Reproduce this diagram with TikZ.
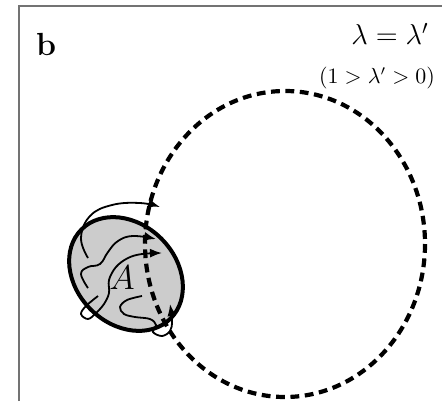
\documentclass[tikz,border=0pt]{standalone}
\usepackage{amsmath,amssymb}
\usepackage{tikz}
\usetikzlibrary{arrows.meta}

\begin{document}
\begin{tikzpicture}[
  x=0.5pt,
  y=-0.5pt,
  frame/.style={
    draw=black!55,
    line width=1pt
  },
  region/.style={
    draw=black,
    fill=black!20,
    line width=2pt
  },
  orbit/.style={
    draw=black,
    line width=2.1pt,
    dash pattern=on 4.4pt off 2.8pt
  },
  walk/.style={
    draw=black,
    line width=0.9pt
  },
  tipped/.style={walk, -{Latex[length=6pt,width=4.5pt]}},
  tag/.style={inner sep=0pt, font=\fontsize{16}{19}\selectfont\bfseries},
  eqn/.style={inner sep=0pt, font=\fontsize{14.5}{17}\selectfont},
  cond/.style={inner sep=0pt, font=\fontsize{10.5}{12}\selectfont}
]
\useasboundingbox (0,0) rectangle (442,401);

% frame of the panel
\draw[frame] (19,401) -- (19,6) -- (442,6);

% the set A
\draw[region, rotate around={-45:(126,274)}] (126,274) ellipse [x radius=63, y radius=50];

% orbit
\draw[orbit] (285,244) ellipse [x radius=140, y radius=153];

% trajectories
\draw[tipped] plot[smooth, tension=0.7] coordinates {
  (88,258) (81,238) (90,216) (112,205) (140,203) (160,207)};
\draw[tipped] plot[smooth, tension=0.7] coordinates {
  (88,288) (81,274) (88,267) (100,264) (108,252) (118,241) (133,236) (156,239)};
\draw[tipped] plot[smooth, tension=0.6] coordinates {
  (98,296) (86,306) (81,314) (88,319) (96,313) (104,304) (109,293) (109,280)
  (116,267) (128,258) (142,254) (162,253)};
\draw[tipped] plot[smooth, tension=0.6] coordinates {
  (142,296) (127,300) (120,307) (124,314) (135,317) (150,319) (156,325)
  (153,332) (162,336) (170,331) (172,321) (170,304)};

\node[tag] (panel) at (46,44) {b};
\node[eqn] (rel) at (390,34) {$\lambda = \lambda'$};
\node[cond] (range) at (377,78) {$(1 > \lambda' > 0)$};
\node[eqn, font=\fontsize{16}{19}\selectfont] (setA) at (122,278) {$A$};
\end{tikzpicture}
\end{document}
